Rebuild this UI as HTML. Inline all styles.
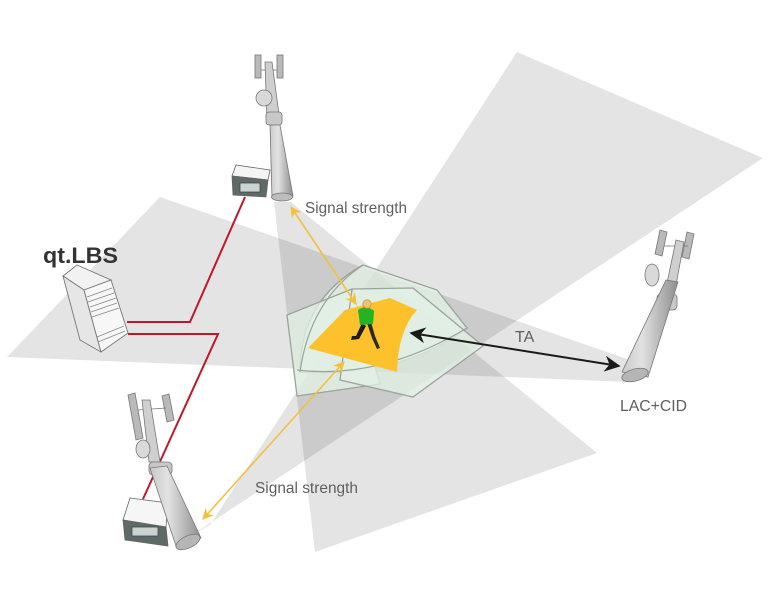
<!DOCTYPE html>
<html><head><meta charset="utf-8"><style>
html,body{margin:0;padding:0;background:#fff;}
svg{display:block;}
</style></head><body>
<svg width="776" height="602" viewBox="0 0 776 602" xmlns="http://www.w3.org/2000/svg">
<defs>
<linearGradient id="cone" x1="0" y1="0" x2="1" y2="0">
<stop offset="0" stop-color="#c9c9c9"/><stop offset="0.35" stop-color="#e2e2e2"/><stop offset="1" stop-color="#8e8e8e"/>
</linearGradient>
<marker id="ay" viewBox="0 0 10 10" refX="9" refY="5" markerWidth="7" markerHeight="7" orient="auto-start-reverse"><path d="M0,0 L10,5 L0,10 L3,5 Z" fill="#f5c03a"/></marker>
<marker id="ak" viewBox="0 0 10 10" refX="9" refY="5" markerWidth="8" markerHeight="8" orient="auto-start-reverse"><path d="M0,0 L10,5 L0,10 L3,5 Z" fill="#1a1a1a"/></marker>
</defs>
<rect width="776" height="602" fill="#fff"/>
<!-- wedges -->
<g fill="#000" fill-opacity="0.105">
<polygon points="630,360 160,197 7,357 630,382"/>
<polygon points="192,535 210,525 517,52 763,158"/>
<polygon points="274,202 291,202 597,453 315,552"/>
</g>
<!-- red cables -->
<g stroke="#c0172b" stroke-width="2" fill="none">
<polyline points="245,197 190,322 127,322"/>
<polyline points="128,334 218,334 143,499"/>
</g>
<!-- green tiles -->
<g fill="#e3f2e6" fill-opacity="0.75" stroke="#9aa39c" stroke-width="1.3">
<path d="M363,265 L437,290 L467,328 Q400,378 300,372 Q300,300 363,265 Z"/>
<path d="M287,315 L352,289 L380,384 L297,396 Z"/>
<path d="M352,289 L413,288 L483,346 L413,397 L340,380 Z"/>
</g>
<g fill="none" stroke="#9aa39c" stroke-width="1.2">
<path d="M363,265 Q310,300 300,372"/>
<path d="M297,370 Q380,380 467,328"/>
</g>
<!-- orange area -->
<path d="M308,348 L345,310 L390,298 L417,310 Q398,330 397,372 Z" fill="#fdc22b"/>
<!-- person -->
<g>
<path d="M362,323 L356,336 L352,336 L351,340 L359,339 L366,326 Z" fill="#1c1c1c"/>
<path d="M367,323 L372,338 L377,349 L380,348 L375,336 L371,322 Z" fill="#2a2a2a"/>
<path d="M358,310 Q366,304 374,311 L373,324 L360,325 Z" fill="#22b422"/>
<circle cx="367" cy="304" r="4.2" fill="#f1c46b" stroke="#c99a3a" stroke-width="0.8"/>
</g>
<!-- arrows -->
<line x1="291" y1="207" x2="356" y2="304" stroke="#f5c03a" stroke-width="1.6" marker-start="url(#ay)" marker-end="url(#ay)"/>
<line x1="203" y1="519" x2="344" y2="362" stroke="#f5c03a" stroke-width="1.6" marker-start="url(#ay)" marker-end="url(#ay)"/>
<line x1="411" y1="333" x2="619" y2="366" stroke="#1a1a1a" stroke-width="2" marker-start="url(#ak)" marker-end="url(#ak)"/>
<!-- top cabinet -->
<g stroke="#666" stroke-width="0.8">
<polygon points="236,165 270,170 268,180 232,176" fill="#f4f4f4"/>
<polygon points="232,176 268,180 266,197 233,195" fill="#5d6a66"/>
<rect x="240" y="183" width="20" height="9" fill="#c9d3cf" stroke="#445"/>
</g>
<!-- top tower -->
<g stroke="#777" stroke-width="0.8">
<rect x="255" y="55" width="6" height="23" fill="#b9b9b9"/>
<rect x="277" y="55" width="6" height="23" fill="#b9b9b9"/>
<line x1="261" y1="70" x2="277" y2="70"/>
<polygon points="265,62 272,62 280,122 267,122" fill="#cfcfcf"/>
<circle cx="264" cy="98" r="8" fill="#d9d9d9"/>
<rect x="266" y="112" width="16" height="13" rx="3" fill="#c8c8c8"/>
<polygon points="270,125 280,125 293,196 272,198" fill="url(#cone)"/>
<ellipse cx="282" cy="197" rx="10.5" ry="4" fill="#bdbdbd"/>
</g>
<!-- right tower -->
<g stroke="#777" stroke-width="0.8">
<polygon points="660,230 667,232 662,256 655,254" fill="#b9b9b9"/>
<polygon points="687,232 694,234 689,259 682,257" fill="#b9b9b9"/>
<line x1="664" y1="246" x2="688" y2="246"/>
<polygon points="676,240 684,242 676,285 667,283" fill="#cfcfcf"/>
<ellipse cx="652" cy="275" rx="7" ry="11" fill="#d9d9d9"/>
<rect x="657" y="294" width="20" height="16" rx="4" fill="#c8c8c8"/>
<polygon points="666,280 678,282 648,377 622,372" fill="url(#cone)"/>
<ellipse cx="635" cy="375" rx="13.5" ry="6" transform="rotate(-15 635 375)" fill="#b5b5b5"/>
</g>
<!-- bottom cabinet -->
<g stroke="#666" stroke-width="0.8">
<polygon points="130,498 168,503 166,527 123,520" fill="#f6f6f6"/>
<polygon points="123,520 166,527 168,546 125,540" fill="#5d6a66"/>
<rect x="132" y="527" width="26" height="9" fill="#c9d3cf" stroke="#445"/>
</g>
<!-- bottom-left tower -->
<g stroke="#777" stroke-width="0.8">
<polygon points="128,395 135,393 143,438 136,440" fill="#b9b9b9"/>
<polygon points="162,396 169,394 174,420 167,422" fill="#b9b9b9"/>
<line x1="138" y1="410" x2="166" y2="408"/>
<polygon points="142,400 150,400 160,462 149,462" fill="#cfcfcf"/>
<ellipse cx="143" cy="449" rx="7" ry="9" fill="#d9d9d9"/>
<rect x="149" y="462" width="23" height="13" rx="4" fill="#c8c8c8"/>
<polygon points="150,468 167,466 201,538 176,546" fill="url(#cone)"/>
<ellipse cx="188" cy="542" rx="13" ry="6" transform="rotate(-25 188 542)" fill="#b5b5b5"/>
</g>
<!-- server rack -->
<g stroke="#777" stroke-width="0.9">
<polygon points="63,276 77,265 111,280 84,290" fill="#f2f2f2"/>
<polygon points="63,276 84,290 101,352 80,340" fill="#e6e6e6"/>
<polygon points="84,290 111,280 128,333 101,352" fill="#f7f7f7"/>
<g stroke="#888" stroke-width="0.8">
<line x1="87" y1="297" x2="112" y2="288"/>
<line x1="88" y1="302" x2="114" y2="293"/>
<line x1="90" y1="307" x2="116" y2="298"/>
<line x1="91" y1="312" x2="117" y2="303"/>
<line x1="92" y1="317" x2="119" y2="308"/>
<line x1="97" y1="337" x2="124" y2="326"/>
<line x1="98" y1="342" x2="125" y2="331"/>
</g>
</g>
<!-- text -->
<g font-family="Liberation Sans, Arial, sans-serif" fill="#5f5f5f" font-size="16">
<text x="305" y="213" textLength="102" lengthAdjust="spacingAndGlyphs">Signal strength</text>
<text x="255" y="493" textLength="103" lengthAdjust="spacingAndGlyphs">Signal strength</text>
<text x="515" y="342">TA</text>
<text x="620" y="411" textLength="67" lengthAdjust="spacingAndGlyphs">LAC+CID</text>
</g>
<text x="43" y="263" font-family="Liberation Sans, Arial, sans-serif" font-weight="bold" font-size="22" fill="#333" textLength="75" lengthAdjust="spacingAndGlyphs">qt.LBS</text>
</svg>
</body></html>
